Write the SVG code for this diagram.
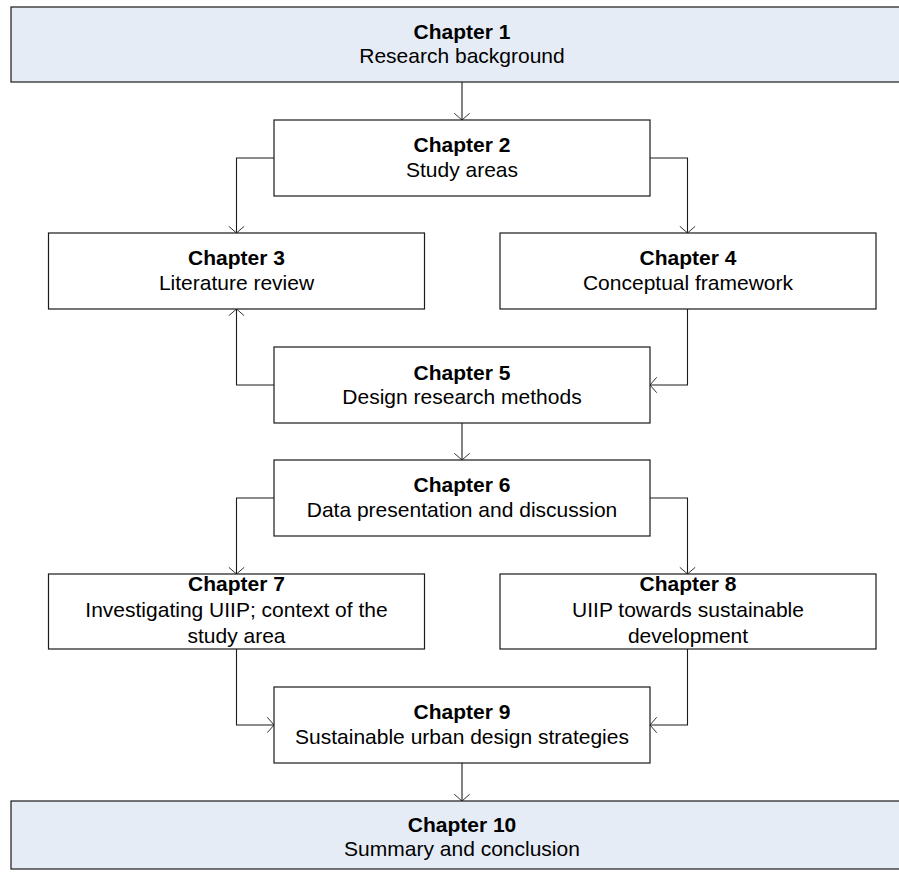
<svg xmlns="http://www.w3.org/2000/svg" width="899" height="872" viewBox="0 0 899 872">
  <style>
    .box { fill: #ffffff; stroke: #1a1a1a; stroke-width: 1.2; }
    .wide { fill: #e6ecf6; stroke: #1a1a1a; stroke-width: 1.2; }
    text { font-family: "Liberation Sans", Arial, sans-serif; font-size: 21px; fill: #000; text-anchor: middle; }
    .title { font-weight: bold; }
    .link { fill: none; stroke: #1a1a1a; stroke-width: 1.1; marker-end: url(#arrow); }
  </style>
  <defs>
    <marker id="arrow" markerUnits="userSpaceOnUse" markerWidth="20" markerHeight="20" viewBox="-10 -10 20 20" refX="0" refY="0" orient="auto" overflow="visible">
      <path d="M-6.7,-7.7 L0,0 L-6.7,7.7" fill="none" stroke="#333" stroke-width="1"/>
    </marker>
  </defs>

  <rect width="899" height="872" fill="#ffffff"/>

  <!-- connectors -->
  <g id="connectors">
    <path class="link" d="M462,82 V120"/>
    <path class="link" d="M274,158 H236.5 V233"/>
    <path class="link" d="M650,158 H687.5 V233"/>
    <path class="link" d="M274,385 H236.5 V309"/>
    <path class="link" d="M687.5,309 V385 H650"/>
    <path class="link" d="M462,423 V460"/>
    <path class="link" d="M274,498 H236.5 V574"/>
    <path class="link" d="M650,498 H687.5 V574"/>
    <path class="link" d="M236.5,649 V725 H274"/>
    <path class="link" d="M687.5,649 V725 H650"/>
    <path class="link" d="M462,763 V801"/>
  </g>

  <g id="ch1">
    <rect class="wide" x="11" y="7" width="900" height="75"/>
    <text class="title" x="462" y="38.5">Chapter 1</text>
    <text x="462" y="63">Research background</text>
  </g>

  <g id="ch2">
    <rect class="box" x="274" y="120" width="376" height="76"/>
    <text class="title" x="462" y="152">Chapter 2</text>
    <text x="462" y="177">Study areas</text>
  </g>

  <g id="ch3">
    <rect class="box" x="48.5" y="233" width="376" height="76"/>
    <text class="title" x="236.5" y="265">Chapter 3</text>
    <text x="236.5" y="290">Literature review</text>
  </g>

  <g id="ch4">
    <rect class="box" x="500" y="233" width="376" height="76"/>
    <text class="title" x="688" y="265">Chapter 4</text>
    <text x="688" y="290">Conceptual framework</text>
  </g>

  <g id="ch5">
    <rect class="box" x="274" y="347" width="376" height="76"/>
    <text class="title" x="462" y="379.5">Chapter 5</text>
    <text x="462" y="404">Design research methods</text>
  </g>

  <g id="ch6">
    <rect class="box" x="274" y="460" width="376" height="76"/>
    <text class="title" x="462" y="492">Chapter 6</text>
    <text x="462" y="517">Data presentation and discussion</text>
  </g>

  <g id="ch7">
    <rect class="box" x="48.5" y="574" width="376" height="75"/>
    <text class="title" x="236.5" y="591">Chapter 7</text>
    <text x="236.5" y="617">Investigating UIIP; context of the</text>
    <text x="236.5" y="643">study area</text>
  </g>

  <g id="ch8">
    <rect class="box" x="500" y="574" width="376" height="75"/>
    <text class="title" x="688" y="591">Chapter 8</text>
    <text x="688" y="617">UIIP towards sustainable</text>
    <text x="688" y="643">development</text>
  </g>

  <g id="ch9">
    <rect class="box" x="274" y="687" width="376" height="76"/>
    <text class="title" x="462" y="719">Chapter 9</text>
    <text x="462" y="744">Sustainable urban design strategies</text>
  </g>

  <g id="ch10">
    <rect class="wide" x="11" y="801" width="900" height="68"/>
    <text class="title" x="462" y="832">Chapter 10</text>
    <text x="462" y="856">Summary and conclusion</text>
  </g>
</svg>
